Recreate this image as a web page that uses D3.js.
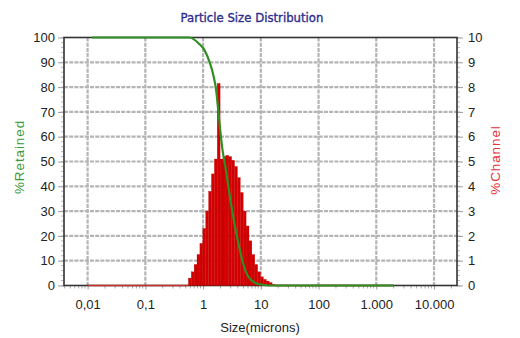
<!DOCTYPE html>
<html><head><meta charset="utf-8">
<script src="https://cdn.jsdelivr.net/npm/d3@7/dist/d3.min.js"></script>
<style>
html,body{margin:0;padding:0;background:#fff;}
svg{display:block;}
text{font-family:"Liberation Sans",Arial,sans-serif;}
</style></head>
<body>
<svg id="chart" width="520" height="338"></svg>
<script>
// ---- data ----
const xTickValues = [0.01, 0.1, 1, 10, 100, 1000, 10000];
const xTickLabels = ["0,01", "0,1", "1", "10", "100", "1.000", "10.000"];
const leftTicks = [0, 10, 20, 30, 40, 50, 60, 70, 80, 90, 100];
const rightTicks = [0, 1, 2, 3, 4, 5, 6, 7, 8, 9, 10];
// channel bin edges (microns) and %Channel per bin
const channelEdges = [0.556, 0.624, 0.700, 0.785, 0.881, 0.989, 1.109, 1.245, 1.396, 1.567,
  1.758, 1.972, 2.213, 2.483, 2.786, 3.126, 3.508, 3.936, 4.416, 4.955,
  5.560, 6.238, 6.999, 7.853, 8.812, 9.887, 11.09, 12.45, 13.97, 15.67, 17.58];
const channelPct = [0.3, 0.55, 0.85, 1.25, 1.7, 2.3, 3.0, 3.8, 4.5, 5.1,
  8.15, 5.1, 5.2, 5.25, 5.2, 5.05, 4.8, 4.35, 3.75, 3.0,
  2.4, 1.8, 1.25, 0.85, 0.55, 0.35, 0.25, 0.18, 0.12, 0.05];
// %Retained curve
const retainedSize = [0.012, 0.3, 0.58, 0.85, 1.05, 1.30, 1.50, 1.70, 1.84, 1.995, 2.16, 2.43,
  2.74, 3.09, 3.49, 4.09, 4.80, 5.63, 6.60, 8.06, 10.7, 14.6, 2000];
const retainedPct = [100, 100, 100, 97.5, 95, 90, 85, 78, 70, 62, 55, 48,
  40, 32, 25, 17, 10, 5, 2.5, 1, 0.3, 0, 0];

// ---- layout ----
const svg = d3.select("#chart");
const L = 64, R = 457, T = 37.5, B = 285.5;
const x = d3.scaleLog().domain([0.0039, 25000]).range([L, R]);
const yL = d3.scaleLinear().domain([0, 100]).range([B, T]);
const yR = d3.scaleLinear().domain([0, 10]).range([B, T]);

// grid
const grid = svg.append("g").attr("stroke", "#b4b4b4").attr("stroke-width", 2.2)
  .attr("stroke-dasharray", "4,1.2");
grid.selectAll("line.v").data(xTickValues).join("line")
  .attr("x1", d => x(d)).attr("x2", d => x(d)).attr("y1", T).attr("y2", B);
grid.selectAll("line.h").data(leftTicks.slice(1, -1)).join("line")
  .attr("x1", L).attr("x2", R).attr("y1", d => yL(d)).attr("y2", d => yL(d));

// bottom axis
const minorX = [];
for (let e = -3; e <= 4; e++) for (let m = 2; m <= 9; m++) {
  const v = m * Math.pow(10, e);
  if (v > x.domain()[0] && v < x.domain()[1]) minorX.push(v);
}
const xAxis = d3.axisBottom(x).tickValues(xTickValues)
  .tickFormat((d, i) => xTickLabels[i]).tickSize(4).tickPadding(10);
const gx = svg.append("g").attr("transform", `translate(0,${B})`).call(xAxis);
gx.select(".domain").remove();
gx.selectAll(".tick line").attr("stroke", "#999");
gx.selectAll("text").attr("font-size", 13).attr("fill", "#222");
svg.append("g").selectAll("line").data(minorX).join("line")
  .attr("x1", d => x(d)).attr("x2", d => x(d)).attr("y1", B).attr("y2", B + 3)
  .attr("stroke", "#aaa").attr("stroke-width", 1);

// left axis
const yAxisL = d3.axisLeft(yL).tickValues(leftTicks).tickSize(6).tickPadding(3);
const gl = svg.append("g").attr("transform", `translate(${L},0)`).call(yAxisL);
gl.select(".domain").remove();
gl.selectAll(".tick line").attr("stroke", "#999");
gl.selectAll("text").attr("font-size", 13).attr("fill", "#222");
svg.append("g").selectAll("line").data(d3.range(0, 101, 2)).join("line")
  .attr("x1", L - 3).attr("x2", L).attr("y1", d => yL(d)).attr("y2", d => yL(d))
  .attr("stroke", "#aaa").attr("stroke-width", 0.8);

// right axis
const yAxisR = d3.axisRight(yR).tickValues(rightTicks).tickSize(6).tickPadding(5);
const gr = svg.append("g").attr("transform", `translate(${R},0)`).call(yAxisR);
gr.select(".domain").remove();
gr.selectAll(".tick line").attr("stroke", "#999");
gr.selectAll("text").attr("font-size", 13).attr("fill", "#222");
svg.append("g").selectAll("line").data(d3.range(0, 10.01, 0.2)).join("line")
  .attr("x1", R).attr("x2", R + 3).attr("y1", d => yR(d)).attr("y2", d => yR(d))
  .attr("stroke", "#aaa").attr("stroke-width", 0.8);

// frame
svg.append("rect").attr("x", L).attr("y", T).attr("width", R - L).attr("height", B - T)
  .attr("fill", "none").attr("stroke", "#333").attr("stroke-width", 1.6);

// red zero baseline
svg.append("line").attr("x1", x(0.01)).attr("x2", x(channelEdges[0]))
  .attr("y1", yR(0)).attr("y2", yR(0)).attr("stroke", "#c8302c").attr("stroke-width", 1.6);
svg.append("line").attr("x1", x(channelEdges[channelEdges.length - 1])).attr("x2", x(2000))
  .attr("y1", yR(0)).attr("y2", yR(0)).attr("stroke", "#c8302c").attr("stroke-width", 1.6);

// histogram bars
svg.append("g").selectAll("rect").data(channelPct).join("rect")
  .attr("x", (d, i) => x(channelEdges[i]))
  .attr("width", (d, i) => x(channelEdges[i + 1]) - x(channelEdges[i]))
  .attr("y", d => yR(d))
  .attr("height", d => yR(0) - yR(d))
  .attr("fill", "#d20000").attr("stroke", "#b80000").attr("stroke-width", 0.25);

// retained curve
const line = d3.line().x(d => x(d[0])).y(d => yL(d[1])).curve(d3.curveMonotoneX);
svg.append("path").datum(retainedSize.map((s, i) => [s, retainedPct[i]]))
  .attr("d", line).attr("fill", "none").attr("stroke", "#2f8f22").attr("stroke-width", 2.2);

// titles
svg.append("text").attr("x", 252).attr("y", 22).attr("text-anchor", "middle")
  .attr("font-size", 13).attr("fill", "#2e2e8c")
  .attr("stroke", "#2e2e8c").attr("stroke-width", 0.35)
  .style("font-family", "'DejaVu Sans Condensed','DejaVu Sans',sans-serif")
  .style("font-stretch", "condensed")
  .text("Particle Size Distribution");
svg.append("text").attr("x", 260).attr("y", 332).attr("text-anchor", "middle")
  .attr("font-size", 13).attr("fill", "#222").text("Size(microns)");
svg.append("text").attr("transform", "translate(24,157) rotate(-90)").attr("text-anchor", "middle")
  .attr("font-size", 13.5).attr("fill", "#3a9a3a").attr("letter-spacing", 0.9).text("%Retained");
svg.append("text").attr("transform", "translate(500,160) rotate(-90)").attr("text-anchor", "middle")
  .attr("font-size", 13.5).attr("fill", "#e83038").attr("letter-spacing", 0.9).text("%Channel");
</script>
</body></html>
